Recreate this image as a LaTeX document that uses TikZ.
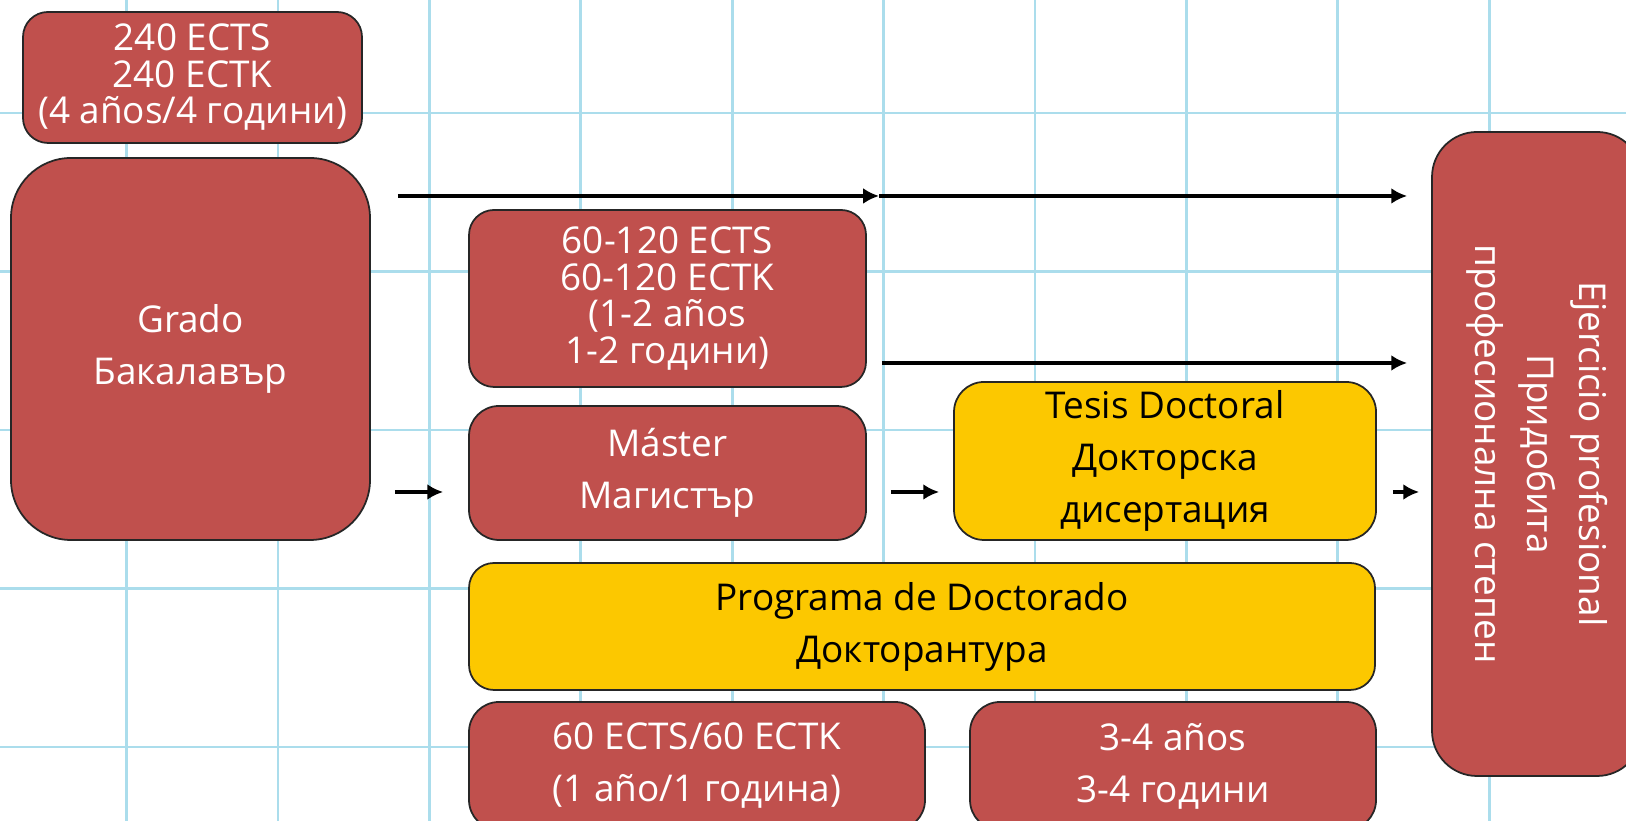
\documentclass[tikz,border=0pt]{standalone}
\usepackage{fontspec}
\setmainfont{Open Sans}
\usetikzlibrary{arrows.meta}
\usetikzlibrary{calc,positioning}

\definecolor{boxred}{HTML}{C0504D}
\definecolor{boxyellow}{HTML}{FCC800}
\definecolor{gridblue}{HTML}{ABDDEC}

\tikzset{
    box/.style={draw=black!85, line width=0.5pt, align=center, inner sep=0pt,
        font=\fontsize{10.5}{14.8}\selectfont},
    redbox/.style={box, fill=boxred, text=white},
    yellowbox/.style={box, fill=boxyellow, text=black},
    tight/.style={font=\fontsize{10.5}{10.4}\selectfont},
    flow/.style={line width=0.9pt, -{Latex[length=4.5pt,width=4.5pt]}},
    gridline/.style={draw=gridblue, line width=0.8pt}
}

\begin{document}
\begin{tikzpicture}
    \useasboundingbox (0,0) rectangle (16.26,8.21);
    \clip (0,0) rectangle (16.26,8.21);
    \fill[white] (0,0) rectangle (16.26,8.21);

    % background grid
    \foreach \x in {1.265,2.779,4.293,5.807,7.321,8.835,10.349,11.863,13.377,14.891}
        \draw[gridline] (\x,0) -- (\x,8.21);
    \foreach \y in {7.08,5.495,3.91,2.325,0.74}
        \draw[gridline] (0,\y) -- (16.26,\y);

    \node[redbox, tight, rounded corners=0.25cm, minimum width=3.39cm, minimum height=1.31cm]
        (ects240) at (1.925,7.435) {240 ECTS\\240 ECTK\\(4 años/4 години)};
    \node[redbox, rounded corners=0.6cm, minimum width=3.59cm, minimum height=3.82cm]
        (grado) at (1.905,4.72) {Grado\\Бакалавър};
    \node[redbox, tight, rounded corners=0.25cm, minimum width=3.97cm, minimum height=1.77cm]
        (ects60120) at (6.675,5.225) {60-120 ECTS\\60-120 ECTK\\(1-2 años\\1-2 години)};
    \node[redbox, rounded corners=0.3cm, minimum width=3.97cm, minimum height=1.34cm]
        (master) at (6.675,3.48) {Máster\\Магистър};
    \node[yellowbox, rounded corners=0.3cm, minimum width=4.22cm, minimum height=1.58cm]
        (tesis) at (11.65,3.6) {Tesis Doctoral\\Докторска\\дисертация};
    \node[yellowbox, rounded corners=0.25cm, minimum width=9.06cm, minimum height=1.27cm]
        (programa) at (9.22,1.945) {Programa de Doctorado\\Докторантура};
    \node[redbox, rounded corners=0.3cm, minimum width=4.56cm, minimum height=1.28cm]
        (ects60) at (6.97,0.55) {60 ECTS/60 ECTK\\(1 año/1 година)};
    \node[redbox, rounded corners=0.3cm, minimum width=4.06cm, minimum height=1.28cm]
        (anos34) at (11.73,0.55) {3-4 años\\3-4 години};
    \node[redbox, rotate=-90, rounded corners=0.45cm, minimum width=6.44cm, minimum height=2.10cm]
        (ejer) at (15.37,3.67) {Ejercicio profesional\\Придобита\\професионална степен};

    \coordinate (row1) at (0,6.25);
    \coordinate (row2) at (0,4.58);
    \coordinate (row3) at (0,3.29);
    \coordinate (mid) at (8.79,6.25);

    \draw[flow] ([xshift=2.7mm]grado.east |- row1) -- (mid);
    \draw[flow] (mid) -- ([xshift=-2.4mm]ejer.south |- row1);
    \draw[flow] ([xshift=1.5mm]ects60120.east |- row2) -- ([xshift=-2.4mm]ejer.south |- row2);
    \draw[flow] ([xshift=2.4mm]grado.east |- row3) -- ([xshift=-2.5mm]master.west |- row3);
    \draw[flow] ([xshift=2.4mm]master.east |- row3) -- ([xshift=-1.4mm]tesis.west |- row3);
    \draw[flow] ([xshift=1.6mm]tesis.east |- row3) -- ([xshift=-1.2mm]ejer.south |- row3);
\end{tikzpicture}
\end{document}
